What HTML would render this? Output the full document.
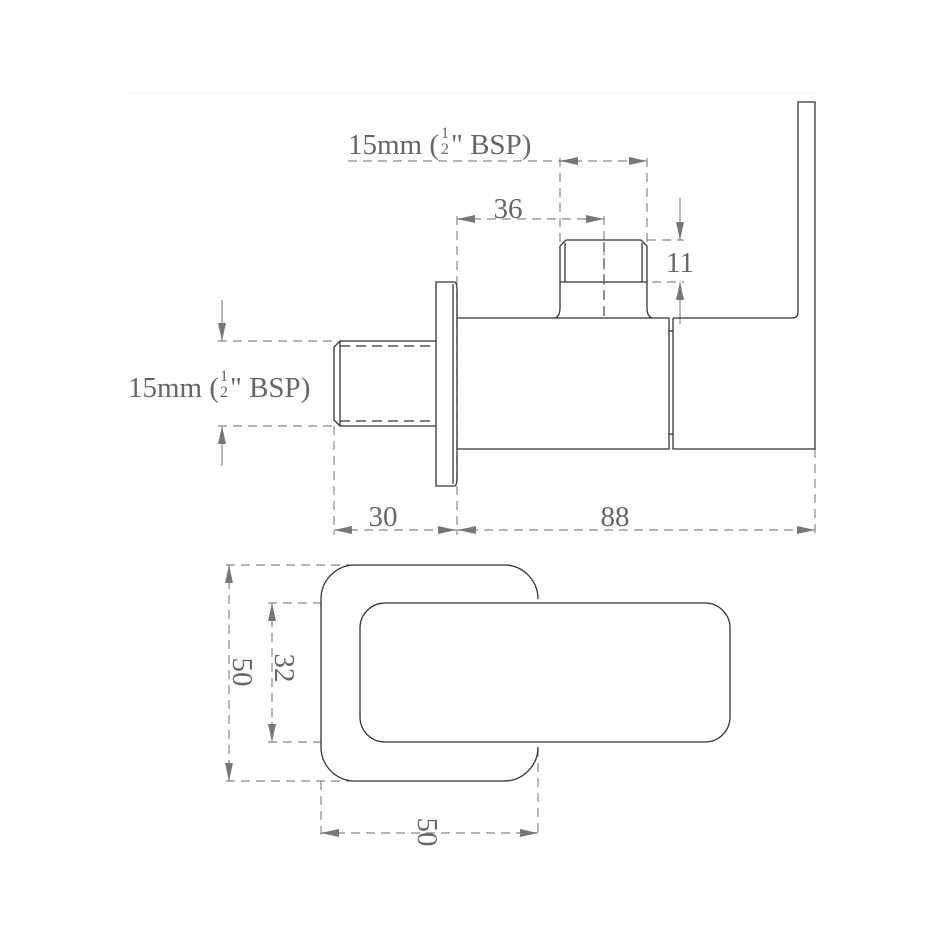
<!DOCTYPE html>
<html><head><meta charset="utf-8"><style>
html,body{margin:0;padding:0;background:#fff;}
svg{display:block;}
text{font-family:"Liberation Serif",serif;fill:#666;}
</style></head><body>
<svg width="945" height="945" viewBox="0 0 945 945" xmlns="http://www.w3.org/2000/svg">
<defs>
<marker id="a" viewBox="0 0 18 8" refX="18" refY="4" markerWidth="18" markerHeight="8" markerUnits="userSpaceOnUse" orient="auto-start-reverse">
<path d="M0,0 L18,4 L0,8 Z" fill="#777"/>
</marker>
</defs>
<line x1="125" y1="93" x2="820" y2="93" stroke="#f2f2f2" stroke-width="1"/>
<g stroke="#888" stroke-width="1.2" stroke-dasharray="9,6" fill="none">
  <line x1="348" y1="161" x2="647" y2="161"/>
  <line x1="560" y1="158" x2="560" y2="242"/>
  <line x1="647" y1="158" x2="647" y2="242"/>
  <line x1="457" y1="219" x2="604" y2="219"/>
  <line x1="457" y1="216" x2="457" y2="535"/>
  <line x1="604" y1="216" x2="604" y2="318"/>
  <line x1="647" y1="240" x2="684" y2="240"/>
  <line x1="652" y1="282" x2="684" y2="282"/>
  <line x1="218" y1="341" x2="334" y2="341"/>
  <line x1="218" y1="426" x2="334" y2="426"/>
  <line x1="334" y1="426" x2="334" y2="535"/>
  <line x1="334" y1="530" x2="815" y2="530"/>
  <line x1="815" y1="449" x2="815" y2="535"/>
  <line x1="226" y1="565" x2="350" y2="565"/>
  <line x1="226" y1="781" x2="350" y2="781"/>
  <line x1="229" y1="565" x2="229" y2="781"/>
  <line x1="268" y1="603" x2="380" y2="603"/>
  <line x1="268" y1="742" x2="380" y2="742"/>
  <line x1="272" y1="603" x2="272" y2="742"/>
  <line x1="321" y1="781" x2="321" y2="836"/>
  <line x1="538" y1="748" x2="538" y2="836"/>
  <line x1="321" y1="833" x2="538" y2="833"/>
</g>
<g stroke="#888" stroke-width="1.2" fill="none">
  <line x1="575" y1="161" x2="560" y2="161" marker-end="url(#a)"/>
  <line x1="632" y1="161" x2="647" y2="161" marker-end="url(#a)"/>
  <line x1="475" y1="219" x2="457" y2="219" marker-end="url(#a)"/>
  <line x1="586" y1="219" x2="604" y2="219" marker-end="url(#a)"/>
  <line x1="680" y1="198" x2="680" y2="240" marker-end="url(#a)"/>
  <line x1="680" y1="324" x2="680" y2="282" marker-end="url(#a)"/>
  <line x1="222" y1="300" x2="222" y2="341" marker-end="url(#a)"/>
  <line x1="222" y1="466" x2="222" y2="426" marker-end="url(#a)"/>
  <line x1="350" y1="530" x2="334" y2="530" marker-end="url(#a)"/>
  <line x1="440" y1="530" x2="456" y2="530" marker-end="url(#a)"/>
  <line x1="475" y1="530" x2="458" y2="530" marker-end="url(#a)"/>
  <line x1="797" y1="530" x2="815" y2="530" marker-end="url(#a)"/>
  <line x1="229" y1="585" x2="229" y2="565" marker-end="url(#a)"/>
  <line x1="229" y1="761" x2="229" y2="781" marker-end="url(#a)"/>
  <line x1="272" y1="623" x2="272" y2="603" marker-end="url(#a)"/>
  <line x1="272" y1="722" x2="272" y2="742" marker-end="url(#a)"/>
  <line x1="340" y1="833" x2="321" y2="833" marker-end="url(#a)"/>
  <line x1="519" y1="833" x2="538" y2="833" marker-end="url(#a)"/>
</g>
<g stroke="#333" stroke-width="1.3" fill="none">
  <path d="M457,318 H669 V449 H457"/>
  <path d="M673,318 V449 H815 V102 H798 V312 Q798,318 792,318 H673"/>
  <line x1="669" y1="331" x2="673" y2="331"/>
  <line x1="669" y1="434" x2="673" y2="434"/>
  <path d="M555,318 Q560,316 560,308 V246 L566,240 H641 L647,246 V308 Q647,316 652,318"/>
  <line x1="565" y1="243" x2="565" y2="282"/>
  <line x1="642" y1="243" x2="642" y2="282"/>
  <line x1="560" y1="282" x2="647" y2="282"/>
  <path d="M436,282 H454 Q457,282 457,290 V478 Q457,486 454,486 H436 Z"/>
  <line x1="453" y1="284" x2="453" y2="484"/>
  <path d="M436,341 H340 L334,347 V420 L340,426 H436"/>
  <line x1="340" y1="341" x2="340" y2="426"/>
</g>
<g stroke="#333" stroke-width="1.2" stroke-dasharray="10,6">
  <line x1="340" y1="346" x2="436" y2="346"/>
  <line x1="340" y1="421" x2="436" y2="421"/>
  <line x1="604" y1="242" x2="604" y2="318" stroke="#555"/>
</g>
<rect x="321" y="565" width="217" height="216" rx="34" ry="34" fill="#fff" stroke="#333" stroke-width="1.3"/>
<rect x="537" y="599" width="4" height="148" fill="#fff"/>
<rect x="360" y="603" width="370" height="139" rx="25" ry="25" fill="#fff" stroke="#333" stroke-width="1.3"/>
<g font-size="29">
  <text x="348" y="154">15mm (</text>
  <text x="441" y="138" font-size="16">1</text>
  <text x="441" y="154" font-size="16">2</text>
  <text x="451" y="154">" BSP)</text>
  <text x="128" y="397">15mm (</text>
  <text x="220" y="381" font-size="16">1</text>
  <text x="220" y="397" font-size="16">2</text>
  <text x="230" y="397">" BSP)</text>
  <text x="508" y="218" text-anchor="middle">36</text>
  <text x="680" y="272" text-anchor="middle">11</text>
  <text x="383" y="526" text-anchor="middle">30</text>
  <text x="615" y="526" text-anchor="middle">88</text>
  <text transform="translate(233,672) rotate(90)" text-anchor="middle">50</text>
  <text transform="translate(275,668) rotate(90)" text-anchor="middle">32</text>
  <text transform="translate(418,832) rotate(90)" text-anchor="middle">50</text>
</g>
</svg>
</body></html>
